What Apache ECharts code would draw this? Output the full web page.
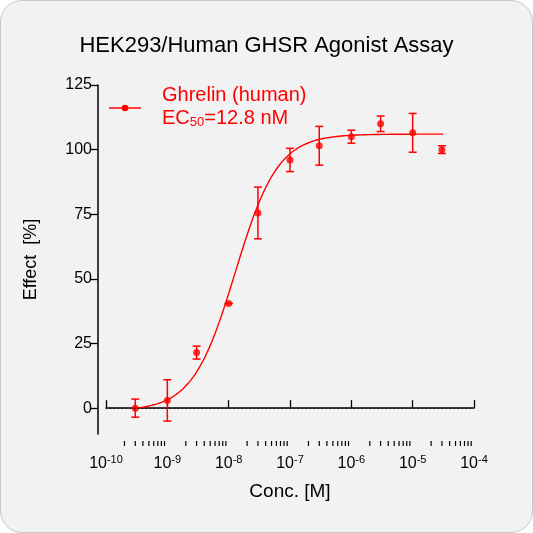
<!DOCTYPE html>
<html><head><meta charset="utf-8">
<script src="https://cdn.jsdelivr.net/npm/echarts@6/dist/echarts.min.js"></script>
<style>
html,body{margin:0;padding:0;background:#fff;}
#wrap{position:absolute;left:0;top:0;width:531px;height:531px;border:1px solid #c8c8c8;border-radius:22px;overflow:hidden;background:#f2f2f2;}
#c{width:531px;height:531px;}
</style></head><body>
<div id="wrap"><div id="c"></div></div>
<script>
const concs = [3e-10, 1e-9, 3e-9, 1e-8, 3e-8, 1e-7, 3e-7, 1e-6, 3e-6, 1e-5, 3e-5];
const effects = [0, 3, 21.5, 40.5, 75.5, 96, 101.5, 105, 110, 106.5, 100];
const errors = [3.5, 8, 2.5, 0, 10, 4.5, 7.5, 2.5, 3, 7.5, 1.5];
const fitParams = {bottom: -1, top: 106, ec50: 12.8e-9, hill: 1.25};
const yTicks = [0, 25, 50, 75, 100, 125];
const decades = [-10, -9, -8, -7, -6, -5];
const minorMult = [2, 3, 4, 5, 6, 7, 8, 9];

const fit = [];
for (let lx = -9.5; lx <= -4.5 + 1e-9; lx += 0.02) {
  const x = Math.pow(10, lx);
  const y = fitParams.bottom + (fitParams.top - fitParams.bottom) / (1 + Math.pow(fitParams.ec50 / x, fitParams.hill));
  fit.push([x, y]);
}
const minorTicks = [];
decades.forEach(d => minorMult.forEach(m => minorTicks.push([m * Math.pow(10, d), -10])));
const pts = concs.map((c, i) => [c, effects[i]]);
const errs = concs.map((c, i) => [c, effects[i] - errors[i], effects[i] + errors[i]]);
const red = '#ff0000';
const XOFF = 12;
const chart = echarts.init(document.getElementById('c'));
chart.setOption({
  animation: false,
  grid: {left: 105, right: 58, top: 84, bottom: 98},
  xAxis: {
    type: 'log', logBase: 10, min: 1e-10, max: 1e-4, offset: XOFF,
    axisLine: {show: true, lineStyle: {color: '#000', width: 1.5}},
    axisTick: {show: true, inside: true, length: 8, lineStyle: {color: '#000', width: 1.3}},
    minorTick: {show: false},
    splitLine: {show: false},
    axisLabel: {
      color: '#000', margin: 8,
      formatter: v => '{b|10}{s|' + Math.round(Math.log10(v)) + '}',
      rich: {b: {fontSize: 16, color: '#000', fontFamily: 'Liberation Sans'}, s: {fontSize: 11, color: '#000', verticalAlign: 'top', padding: [0, 0, 9, 0], fontFamily: 'Liberation Sans'}}
    },
    name: 'Conc. [M]', nameLocation: 'middle', nameGap: 36,
    nameTextStyle: {color: '#000', fontSize: 19, fontFamily: 'Liberation Sans'}
  },
  yAxis: {
    type: 'value', min: -10, max: 125, offset: 8,
    axisLine: {show: true, lineStyle: {color: '#000', width: 1.5}},
    axisTick: {show: true, length: 8, customValues: yTicks, lineStyle: {color: '#000', width: 1.3}},
    axisLabel: {customValues: yTicks, color: '#000', fontSize: 16, fontFamily: 'Liberation Sans', margin: 6},
    splitLine: {show: false},
    name: 'Effect  [%]', nameLocation: 'middle', nameGap: 58,
    nameTextStyle: {color: '#000', fontSize: 18, fontFamily: 'Liberation Sans'}
  },
  graphic: [
    {type: 'text', left: 'center', top: 34, style: {text: 'HEK293/Human GHSR Agonist Assay', fontSize: 22, fill: '#000', fontFamily: 'Liberation Sans'}},
    {type: 'line', shape: {x1: 108, y1: 107, x2: 140, y2: 107}, style: {stroke: red, lineWidth: 1.5}},
    {type: 'circle', shape: {cx: 124, cy: 107, r: 3.3}, style: {fill: red}},
    {type: 'text', left: 161, top: 84, style: {text: 'Ghrelin (human)', fontSize: 20, fill: red, fontFamily: 'Liberation Sans'}},
    {type: 'text', left: 161, top: 107, style: {
      text: '{a|EC}{s|50}{a|=12.8 nM}', fill: red,
      rich: {a: {fontSize: 20, fill: red, fontFamily: 'Liberation Sans'}, s: {fontSize: 13, fill: red, verticalAlign: 'bottom', padding: [9, 0, 0, 0], fontFamily: 'Liberation Sans'}}
    }}
  ],
  series: [
    {type: 'custom', data: minorTicks, silent: true, z: 1,
     renderItem: (params, api) => {
       const p = api.coord([api.value(0), api.value(1)]);
       const y = p[1] + XOFF;
       return {type: 'line', shape: {x1: p[0], y1: y, x2: p[0], y2: y - 5}, style: {stroke: '#000', lineWidth: 1.2}};
     }},
    {type: 'line', data: fit, showSymbol: false, lineStyle: {color: red, width: 1.4}, z: 2,
     markLine: {silent: true, symbol: 'none', label: {show: false}, lineStyle: {color: '#000', type: [1, 3], width: 1.2},
       data: [[{coord: [1e-10, 0]}, {coord: [1e-4, 0]}]]}},
    {type: 'custom', data: errs, z: 3,
     renderItem: (params, api) => {
       const x = api.value(0);
       const lo = api.coord([x, api.value(1)]);
       const hi = api.coord([x, api.value(2)]);
       const w = 4;
       const s = {stroke: red, lineWidth: 1.5};
       return {type: 'group', children: [
         {type: 'line', shape: {x1: lo[0], y1: lo[1], x2: hi[0], y2: hi[1]}, style: s},
         {type: 'line', shape: {x1: lo[0] - w, y1: lo[1], x2: lo[0] + w, y2: lo[1]}, style: s},
         {type: 'line', shape: {x1: hi[0] - w, y1: hi[1], x2: hi[0] + w, y2: hi[1]}, style: s}
       ]};
     }},
    {type: 'scatter', data: pts, symbolSize: 7, itemStyle: {color: red}, z: 4}
  ]
});
</script></body></html>
